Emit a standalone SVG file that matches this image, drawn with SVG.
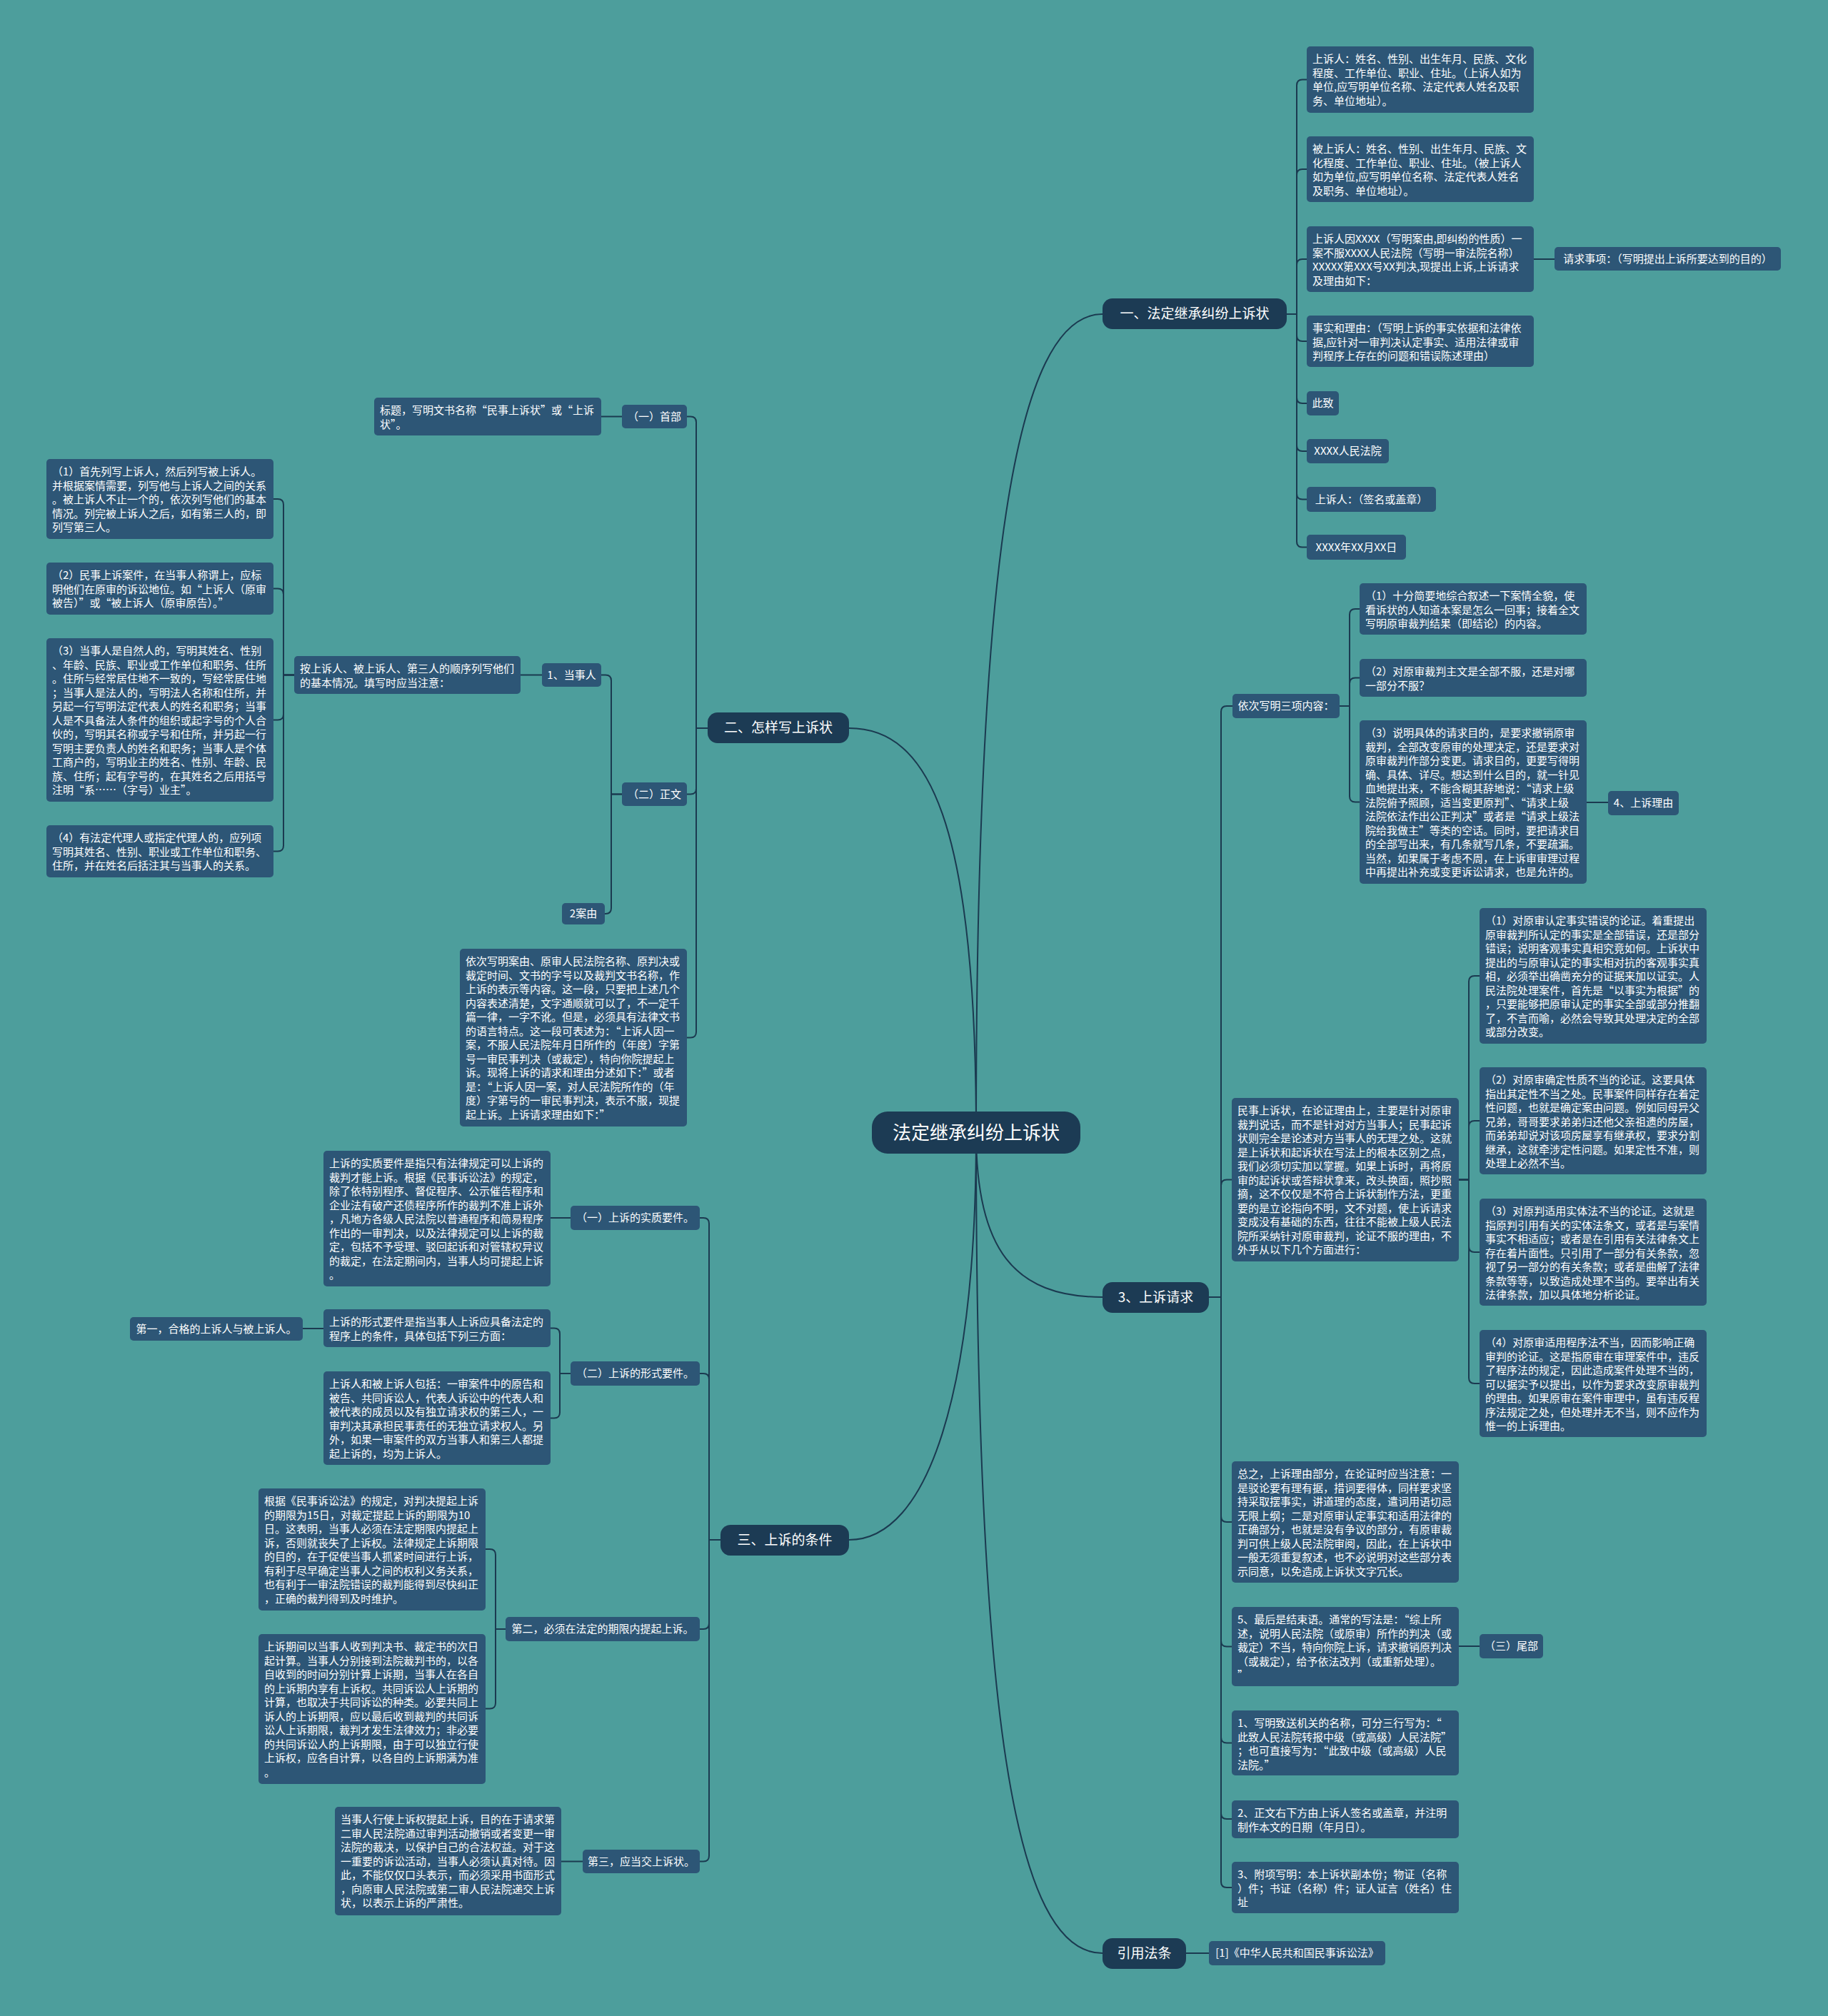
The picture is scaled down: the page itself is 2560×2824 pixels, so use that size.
<svg xmlns="http://www.w3.org/2000/svg" width="2560" height="2824" viewBox="0 0 2560 2824">
<style>
.bg{fill:#4d9e9c}
.n{fill:#2d5676}
.m{fill:#1c3b54}
text{fill:#ffffff;font-family:"Noto Sans CJK SC","Noto Sans",sans-serif;font-size:15px}
.c{text-anchor:middle}
.mt{font-size:19px;text-anchor:middle}
.ct{font-size:26px;text-anchor:middle}
.lk path{fill:none;stroke:#1b3a50;stroke-width:2}
</style>
<rect class="bg" x="0" y="0" width="2560" height="2824"/>

<g class="lk" id="connectors">
<path d="M1367 1587C1367 800 1420 440 1544 440"/>
<path d="M1367 1587C1367 1750 1420 1817 1544 1817"/>
<path d="M1367 1587C1367 2400 1420 2736 1544 2736"/>
<path d="M1367 1587C1367 1150 1300 1020 1189 1020"/>
<path d="M1367 1587C1367 1950 1300 2157 1189 2157"/>
<path d="M1802 440H1816V119.5Q1816 111.5 1824 111.5H1830"/>
<path d="M1802 440H1816V245Q1816 237 1824 237H1830"/>
<path d="M1802 440H1816V371Q1816 363 1824 363H1830"/>
<path d="M1802 440H1816V470Q1816 478 1824 478H1830"/>
<path d="M1802 440H1816V557Q1816 565 1824 565H1830"/>
<path d="M1802 440H1816V624Q1816 632 1824 632H1830"/>
<path d="M1802 440H1816V691.5Q1816 699.5 1824 699.5H1830"/>
<path d="M1802 440H1816V758.5Q1816 766.5 1824 766.5H1830"/>
<path d="M2148 363H2177"/>
<path d="M1876 989H1890V861Q1890 853 1898 853H1904"/>
<path d="M1876 989H1890V957.5Q1890 949.5 1898 949.5H1904"/>
<path d="M1876 989H1890V1115.5Q1890 1123.5 1898 1123.5H1904"/>
<path d="M2222 1124H2252"/>
<path d="M1693 1817H1710V997Q1710 989 1718 989H1726"/>
<path d="M1693 1817H1710V1660.5Q1710 1652.5 1718 1652.5H1725"/>
<path d="M1693 1817H1710V2124Q1710 2132 1718 2132H1725"/>
<path d="M1693 1817H1710V2298.5Q1710 2306.5 1718 2306.5H1725"/>
<path d="M1693 1817H1710V2433.5Q1710 2441.5 1718 2441.5H1725"/>
<path d="M1693 1817H1710V2540Q1710 2548 1718 2548H1725"/>
<path d="M1693 1817H1710V2636Q1710 2644 1718 2644H1725"/>
<path d="M2043 1652.5H2057V1375Q2057 1367 2065 1367H2072"/>
<path d="M2043 1652.5H2057V1578Q2057 1570 2065 1570H2072"/>
<path d="M2043 1652.5H2057V1746Q2057 1754 2065 1754H2072"/>
<path d="M2043 1652.5H2057V1930Q2057 1938 2065 1938H2072"/>
<path d="M2043 2306H2072"/>
<path d="M1661 2736H1693"/>
<path d="M991 1020H975V591.5Q975 583.5 967 583.5H962"/>
<path d="M991 1020H975V1104.5Q975 1112.5 967 1112.5H962"/>
<path d="M991 1020H975V1445.5Q975 1453.5 967 1453.5H962"/>
<path d="M871 583.5H842"/>
<path d="M871 1112.5H856V953.5Q856 945.5 848 945.5H842"/>
<path d="M871 1112.5H856V1272Q856 1280 848 1280H847"/>
<path d="M759 945.5H729"/>
<path d="M412 945.5H397V707Q397 699 389 699H383"/>
<path d="M412 945.5H397V832.5Q397 824.5 389 824.5H383"/>
<path d="M412 945.5H397V1000.5Q397 1008.5 389 1008.5H383"/>
<path d="M412 945.5H397V1184.5Q397 1192.5 389 1192.5H383"/>
<path d="M1009 2157H993V1714Q993 1706 985 1706H980"/>
<path d="M1009 2157H993V1932Q993 1924 985 1924H980"/>
<path d="M1009 2157H993V2274Q993 2282 985 2282H980"/>
<path d="M1009 2157H993V2599.5Q993 2607.5 985 2607.5H980"/>
<path d="M799 1706H771"/>
<path d="M799 1924H784V1868.5Q784 1860.5 776 1860.5H771"/>
<path d="M799 1924H784V1978.5Q784 1986.5 776 1986.5H771"/>
<path d="M453 1861H424"/>
<path d="M708 2282H694V2178Q694 2170 686 2170H680"/>
<path d="M708 2282H694V2385.5Q694 2393.5 686 2393.5H680"/>
<path d="M816 2607.5H786"/>
</g>

<g id="center"><rect class="m" x="1221" y="1557" width="292" height="59" rx="22"/><text class="ct" x="1367" y="1596">法定继承纠纷上诉状</text></g>

<g id="m1"><rect class="m" x="1544" y="418" width="258" height="43" rx="14"/><text class="mt" x="1673" y="446">一、法定继承纠纷上诉状</text></g>
<g id="m2"><rect class="m" x="1544" y="1796" width="149" height="43" rx="14"/><text class="mt" x="1618.5" y="1824">3、上诉请求</text></g>
<g id="m3"><rect class="m" x="1544" y="2715" width="117" height="43" rx="14"/><text class="mt" x="1602.5" y="2743">引用法条</text></g>
<g id="m4"><rect class="m" x="991" y="998" width="198" height="43" rx="14"/><text class="mt" x="1090" y="1026">二、怎样写上诉状</text></g>
<g id="m5"><rect class="m" x="1009" y="2136" width="180" height="43" rx="14"/><text class="mt" x="1099" y="2164">三、上诉的条件</text></g>

<g id="r1"><rect class="n" x="1830" y="65" width="318" height="93" rx="5"/><text x="1838" y="88">上诉人：姓名、性别、出生年月、民族、文化<tspan x="1838" dy="19.5">程度、工作单位、职业、住址。（上诉人如为</tspan><tspan x="1838" dy="19.5">单位,应写明单位名称、法定代表人姓名及职</tspan><tspan x="1838" dy="19.5">务、单位地址）。</tspan></text></g>
<g id="r2"><rect class="n" x="1830" y="191" width="318" height="92" rx="5"/><text x="1838" y="214">被上诉人：姓名、性别、出生年月、民族、文<tspan x="1838" dy="19.5">化程度、工作单位、职业、住址。（被上诉人</tspan><tspan x="1838" dy="19.5">如为单位,应写明单位名称、法定代表人姓名</tspan><tspan x="1838" dy="19.5">及职务、单位地址）。</tspan></text></g>
<g id="r3"><rect class="n" x="1830" y="317" width="318" height="92" rx="5"/><text x="1838" y="340">上诉人因XXXX（写明案由,即纠纷的性质）一<tspan x="1838" dy="19.5">案不服XXXX人民法院（写明一审法院名称）</tspan><tspan x="1838" dy="19.5">XXXXX第XXX号XX判决,现提出上诉,上诉请求</tspan><tspan x="1838" dy="19.5">及理由如下：</tspan></text></g>
<g id="r3a"><rect class="n" x="2177" y="346" width="317" height="33" rx="5"/><text class="c" x="2335.5" y="368">请求事项：（写明提出上诉所要达到的目的）</text></g>
<g id="r4"><rect class="n" x="1830" y="442" width="318" height="72" rx="5"/><text x="1838" y="465">事实和理由：（写明上诉的事实依据和法律依<tspan x="1838" dy="19.5">据,应针对一审判决认定事实、适用法律或审</tspan><tspan x="1838" dy="19.5">判程序上存在的问题和错误陈述理由）</tspan></text></g>
<g id="r5"><rect class="n" x="1830" y="548" width="45" height="34" rx="5"/><text class="c" x="1852.5" y="570">此致</text></g>
<g id="r6"><rect class="n" x="1830" y="615" width="115" height="34" rx="5"/><text class="c" x="1887.5" y="637">XXXX人民法院</text></g>
<g id="r7"><rect class="n" x="1830" y="682" width="181" height="35" rx="5"/><text class="c" x="1920.5" y="704.5">上诉人：（签名或盖章）</text></g>
<g id="r8"><rect class="n" x="1830" y="749" width="139" height="35" rx="5"/><text class="c" x="1899.5" y="771.5">XXXX年XX月XX日</text></g>

<g id="q1"><rect class="n" x="1726" y="972" width="150" height="34" rx="5"/><text class="c" x="1801" y="994">依次写明三项内容：</text></g>
<g id="q1a"><rect class="n" x="1904" y="817" width="318" height="72" rx="5"/><text x="1912" y="840">（1）十分简要地综合叙述一下案情全貌，使<tspan x="1912" dy="19.5">看诉状的人知道本案是怎么一回事；接着全文</tspan><tspan x="1912" dy="19.5">写明原审裁判结果（即结论）的内容。</tspan></text></g>
<g id="q1b"><rect class="n" x="1904" y="923" width="318" height="53" rx="5"/><text x="1912" y="946">（2）对原审裁判主文是全部不服，还是对哪<tspan x="1912" dy="19.5">一部分不服？</tspan></text></g>
<g id="q1c"><rect class="n" x="1904" y="1009" width="318" height="229" rx="5"/><text x="1912" y="1032">（3）说明具体的请求目的，是要求撤销原审<tspan x="1912" dy="19.5">裁判，全部改变原审的处理决定，还是要求对</tspan><tspan x="1912" dy="19.5">原审裁判作部分变更。请求目的，更要写得明</tspan><tspan x="1912" dy="19.5">确、具体、详尽。想达到什么目的，就一针见</tspan><tspan x="1912" dy="19.5">血地提出来，不能含糊其辞地说：“请求上级</tspan><tspan x="1912" dy="19.5">法院俯予照顾，适当变更原判”、“请求上级</tspan><tspan x="1912" dy="19.5">法院依法作出公正判决”或者是“请求上级法</tspan><tspan x="1912" dy="19.5">院给我做主”等类的空话。同时，要把请求目</tspan><tspan x="1912" dy="19.5">的全部写出来，有几条就写几条，不要疏漏。</tspan><tspan x="1912" dy="19.5">当然，如果属于考虑不周，在上诉审审理过程</tspan><tspan x="1912" dy="19.5">中再提出补充或变更诉讼请求，也是允许的。</tspan></text></g>
<g id="q1d"><rect class="n" x="2252" y="1108" width="99" height="34" rx="5"/><text class="c" x="2301.5" y="1130">4、上诉理由</text></g>

<g id="q2"><rect class="n" x="1725" y="1538" width="318" height="229" rx="5"/><text x="1733" y="1561">民事上诉状，在论证理由上，主要是针对原审<tspan x="1733" dy="19.5">裁判说话，而不是针对对方当事人；民事起诉</tspan><tspan x="1733" dy="19.5">状则完全是论述对方当事人的无理之处。这就</tspan><tspan x="1733" dy="19.5">是上诉状和起诉状在写法上的根本区别之点，</tspan><tspan x="1733" dy="19.5">我们必须切实加以掌握。如果上诉时，再将原</tspan><tspan x="1733" dy="19.5">审的起诉状或答辩状拿来，改头换面，照抄照</tspan><tspan x="1733" dy="19.5">摘，这不仅仅是不符合上诉状制作方法，更重</tspan><tspan x="1733" dy="19.5">要的是立论指向不明，文不对题，使上诉请求</tspan><tspan x="1733" dy="19.5">变成没有基础的东西，往往不能被上级人民法</tspan><tspan x="1733" dy="19.5">院所采纳针对原审裁判，论证不服的理由，不</tspan><tspan x="1733" dy="19.5">外乎从以下几个方面进行：</tspan></text></g>
<g id="q2a"><rect class="n" x="2072" y="1272" width="318" height="190" rx="5"/><text x="2080" y="1295">（1）对原审认定事实错误的论证。着重提出<tspan x="2080" dy="19.5">原审裁判所认定的事实是全部错误，还是部分</tspan><tspan x="2080" dy="19.5">错误；说明客观事实真相究竟如何。上诉状中</tspan><tspan x="2080" dy="19.5">提出的与原审认定的事实相对抗的客观事实真</tspan><tspan x="2080" dy="19.5">相，必须举出确凿充分的证据来加以证实。人</tspan><tspan x="2080" dy="19.5">民法院处理案件，首先是“以事实为根据”的</tspan><tspan x="2080" dy="19.5">，只要能够把原审认定的事实全部或部分推翻</tspan><tspan x="2080" dy="19.5">了，不言而喻，必然会导致其处理决定的全部</tspan><tspan x="2080" dy="19.5">或部分改变。</tspan></text></g>
<g id="q2b"><rect class="n" x="2072" y="1495" width="318" height="150" rx="5"/><text x="2080" y="1518">（2）对原审确定性质不当的论证。这要具体<tspan x="2080" dy="19.5">指出其定性不当之处。民事案件同样存在着定</tspan><tspan x="2080" dy="19.5">性问题，也就是确定案由问题。例如同母异父</tspan><tspan x="2080" dy="19.5">兄弟，哥哥要求弟弟归还他父亲祖遗的房屋，</tspan><tspan x="2080" dy="19.5">而弟弟却说对该项房屋享有继承权，要求分割</tspan><tspan x="2080" dy="19.5">继承，这就牵涉定性问题。如果定性不准，则</tspan><tspan x="2080" dy="19.5">处理上必然不当。</tspan></text></g>
<g id="q2c"><rect class="n" x="2072" y="1679" width="318" height="150" rx="5"/><text x="2080" y="1702">（3）对原判适用实体法不当的论证。这就是<tspan x="2080" dy="19.5">指原判引用有关的实体法条文，或者是与案情</tspan><tspan x="2080" dy="19.5">事实不相适应；或者是在引用有关法律条文上</tspan><tspan x="2080" dy="19.5">存在着片面性。只引用了一部分有关条款，忽</tspan><tspan x="2080" dy="19.5">视了另一部分的有关条款；或者是曲解了法律</tspan><tspan x="2080" dy="19.5">条款等等，以致造成处理不当的。要举出有关</tspan><tspan x="2080" dy="19.5">法律条款，加以具体地分析论证。</tspan></text></g>
<g id="q2d"><rect class="n" x="2072" y="1863" width="318" height="150" rx="5"/><text x="2080" y="1886">（4）对原审适用程序法不当，因而影响正确<tspan x="2080" dy="19.5">审判的论证。这是指原审在审理案件中，违反</tspan><tspan x="2080" dy="19.5">了程序法的规定，因此造成案件处理不当的，</tspan><tspan x="2080" dy="19.5">可以据实予以提出，以作为要求改变原审裁判</tspan><tspan x="2080" dy="19.5">的理由。如果原审在案件审理中，虽有违反程</tspan><tspan x="2080" dy="19.5">序法规定之处，但处理并无不当，则不应作为</tspan><tspan x="2080" dy="19.5">惟一的上诉理由。</tspan></text></g>
<g id="q3"><rect class="n" x="1725" y="2047" width="318" height="170" rx="5"/><text x="1733" y="2070">总之，上诉理由部分，在论证时应当注意：一<tspan x="1733" dy="19.5">是驳论要有理有据，措词要得体，同样要求坚</tspan><tspan x="1733" dy="19.5">持采取摆事实，讲道理的态度，遣词用语切忌</tspan><tspan x="1733" dy="19.5">无限上纲；二是对原审认定事实和适用法律的</tspan><tspan x="1733" dy="19.5">正确部分，也就是没有争议的部分，有原审裁</tspan><tspan x="1733" dy="19.5">判可供上级人民法院审阅，因此，在上诉状中</tspan><tspan x="1733" dy="19.5">一般无须重复叙述，也不必说明对这些部分表</tspan><tspan x="1733" dy="19.5">示同意，以免造成上诉状文字冗长。</tspan></text></g>
<g id="q4"><rect class="n" x="1725" y="2251" width="318" height="111" rx="5"/><text x="1733" y="2274">5、最后是结束语。通常的写法是：“综上所<tspan x="1733" dy="19.5">述，说明人民法院（或原审）所作的判决（或</tspan><tspan x="1733" dy="19.5">裁定）不当，特向你院上诉，请求撤销原判决</tspan><tspan x="1733" dy="19.5">（或裁定），给予依法改判（或重新处理）。</tspan><tspan x="1733" dy="19.5">”</tspan></text></g>
<g id="q4a"><rect class="n" x="2072" y="2289" width="89" height="34" rx="5"/><text class="c" x="2116.5" y="2311">（三）尾部</text></g>
<g id="q5"><rect class="n" x="1725" y="2396" width="318" height="91" rx="5"/><text x="1733" y="2419">1、写明致送机关的名称，可分三行写为：“<tspan x="1733" dy="19.5">此致人民法院转报中级（或高级）人民法院”</tspan><tspan x="1733" dy="19.5">；也可直接写为：“此致中级（或高级）人民</tspan><tspan x="1733" dy="19.5">法院。”</tspan></text></g>
<g id="q6"><rect class="n" x="1725" y="2522" width="318" height="53" rx="5"/><text x="1733" y="2545">2、正文右下方由上诉人签名或盖章，并注明<tspan x="1733" dy="19.5">制作本文的日期（年月日）。</tspan></text></g>
<g id="q7"><rect class="n" x="1725" y="2608" width="318" height="72" rx="5"/><text x="1733" y="2631">3、附项写明：本上诉状副本份；物证（名称<tspan x="1733" dy="19.5">）件；书证（名称）件；证人证言（姓名）住</tspan><tspan x="1733" dy="19.5">址</tspan></text></g>
<g id="f1"><rect class="n" x="1693" y="2719" width="247" height="34" rx="5"/><text class="c" x="1816.5" y="2741">[1]《中华人民共和国民事诉讼法》</text></g>

<g id="l1"><rect class="n" x="871" y="567" width="91" height="33" rx="5"/><text class="c" x="916.5" y="588.5">（一）首部</text></g>
<g id="l1a"><rect class="n" x="524" y="557" width="318" height="53" rx="5"/><text x="532" y="580">标题，写明文书名称“民事上诉状”或“上诉<tspan x="532" dy="19.5">状”。</tspan></text></g>
<g id="l2"><rect class="n" x="871" y="1096" width="91" height="33" rx="5"/><text class="c" x="916.5" y="1118">（二）正文</text></g>
<g id="l2a"><rect class="n" x="759" y="929" width="83" height="33" rx="5"/><text class="c" x="800.5" y="951">1、当事人</text></g>
<g id="l2b"><rect class="n" x="412" y="919" width="317" height="53" rx="5"/><text x="420" y="942">按上诉人、被上诉人、第三人的顺序列写他们<tspan x="420" dy="19.5">的基本情况。填写时应当注意：</tspan></text></g>
<g id="l2c"><rect class="n" x="65" y="643" width="318" height="112" rx="5"/><text x="73" y="666">（1）首先列写上诉人，然后列写被上诉人。<tspan x="73" dy="19.5">并根据案情需要，列写他与上诉人之间的关系</tspan><tspan x="73" dy="19.5">。被上诉人不止一个的，依次列写他们的基本</tspan><tspan x="73" dy="19.5">情况。列完被上诉人之后，如有第三人的，即</tspan><tspan x="73" dy="19.5">列写第三人。</tspan></text></g>
<g id="l2d"><rect class="n" x="65" y="788" width="318" height="73" rx="5"/><text x="73" y="811">（2）民事上诉案件，在当事人称谓上，应标<tspan x="73" dy="19.5">明他们在原审的诉讼地位。如“上诉人（原审</tspan><tspan x="73" dy="19.5">被告）”或“被上诉人（原审原告）。”</tspan></text></g>
<g id="l2e"><rect class="n" x="65" y="894" width="318" height="229" rx="5"/><text x="73" y="917">（3）当事人是自然人的，写明其姓名、性别<tspan x="73" dy="19.5">、年龄、民族、职业或工作单位和职务、住所</tspan><tspan x="73" dy="19.5">。住所与经常居住地不一致的，写经常居住地</tspan><tspan x="73" dy="19.5">；当事人是法人的，写明法人名称和住所，并</tspan><tspan x="73" dy="19.5">另起一行写明法定代表人的姓名和职务；当事</tspan><tspan x="73" dy="19.5">人是不具备法人条件的组织或起字号的个人合</tspan><tspan x="73" dy="19.5">伙的，写明其名称或字号和住所，并另起一行</tspan><tspan x="73" dy="19.5">写明主要负责人的姓名和职务；当事人是个体</tspan><tspan x="73" dy="19.5">工商户的，写明业主的姓名、性别、年龄、民</tspan><tspan x="73" dy="19.5">族、住所；起有字号的，在其姓名之后用括号</tspan><tspan x="73" dy="19.5">注明“系……（字号）业主”。</tspan></text></g>
<g id="l2f"><rect class="n" x="65" y="1156" width="318" height="73" rx="5"/><text x="73" y="1179">（4）有法定代理人或指定代理人的，应列项<tspan x="73" dy="19.5">写明其姓名、性别、职业或工作单位和职务、</tspan><tspan x="73" dy="19.5">住所，并在姓名后括注其与当事人的关系。</tspan></text></g>
<g id="l2g"><rect class="n" x="787" y="1265" width="60" height="30" rx="5"/><text class="c" x="817" y="1285">2案由</text></g>
<g id="l3"><rect class="n" x="644" y="1329" width="318" height="249" rx="5"/><text x="652" y="1352">依次写明案由、原审人民法院名称、原判决或<tspan x="652" dy="19.5">裁定时间、文书的字号以及裁判文书名称，作</tspan><tspan x="652" dy="19.5">上诉的表示等内容。这一段，只要把上述几个</tspan><tspan x="652" dy="19.5">内容表述清楚，文字通顺就可以了，不一定千</tspan><tspan x="652" dy="19.5">篇一律，一字不讹。但是，必须具有法律文书</tspan><tspan x="652" dy="19.5">的语言特点。这一段可表述为：“上诉人因一</tspan><tspan x="652" dy="19.5">案，不服人民法院年月日所作的（年度）字第</tspan><tspan x="652" dy="19.5">号一审民事判决（或裁定），特向你院提起上</tspan><tspan x="652" dy="19.5">诉。现将上诉的请求和理由分述如下：”或者</tspan><tspan x="652" dy="19.5">是：“上诉人因一案，对人民法院所作的（年</tspan><tspan x="652" dy="19.5">度）字第号的一审民事判决，表示不服，现提</tspan><tspan x="652" dy="19.5">起上诉。上诉请求理由如下：”</tspan></text></g>

<g id="k1"><rect class="n" x="799" y="1689" width="181" height="34" rx="5"/><text class="c" x="889.5" y="1711">（一）上诉的实质要件。</text></g>
<g id="k1a"><rect class="n" x="453" y="1612" width="318" height="190" rx="5"/><text x="461" y="1635">上诉的实质要件是指只有法律规定可以上诉的<tspan x="461" dy="19.5">裁判才能上诉。根据《民事诉讼法》的规定，</tspan><tspan x="461" dy="19.5">除了依特别程序、督促程序、公示催告程序和</tspan><tspan x="461" dy="19.5">企业法有破产还债程序所作的裁判不准上诉外</tspan><tspan x="461" dy="19.5">，凡地方各级人民法院以普通程序和简易程序</tspan><tspan x="461" dy="19.5">作出的一审判决，以及法律规定可以上诉的裁</tspan><tspan x="461" dy="19.5">定，包括不予受理、驳回起诉和对管辖权异议</tspan><tspan x="461" dy="19.5">的裁定，在法定期间内，当事人均可提起上诉</tspan><tspan x="461" dy="19.5">。</tspan></text></g>
<g id="k2"><rect class="n" x="799" y="1907" width="181" height="34" rx="5"/><text class="c" x="889.5" y="1929">（二）上诉的形式要件。</text></g>
<g id="k2a"><rect class="n" x="453" y="1834" width="318" height="53" rx="5"/><text x="461" y="1857">上诉的形式要件是指当事人上诉应具备法定的<tspan x="461" dy="19.5">程序上的条件，具体包括下列三方面：</tspan></text></g>
<g id="k2b"><rect class="n" x="182" y="1845" width="242" height="33" rx="5"/><text class="c" x="303" y="1866.5">第一，合格的上诉人与被上诉人。</text></g>
<g id="k2c"><rect class="n" x="453" y="1921" width="318" height="131" rx="5"/><text x="461" y="1944">上诉人和被上诉人包括：一审案件中的原告和<tspan x="461" dy="19.5">被告、共同诉讼人，代表人诉讼中的代表人和</tspan><tspan x="461" dy="19.5">被代表的成员以及有独立请求权的第三人，一</tspan><tspan x="461" dy="19.5">审判决其承担民事责任的无独立请求权人。另</tspan><tspan x="461" dy="19.5">外，如果一审案件的双方当事人和第三人都提</tspan><tspan x="461" dy="19.5">起上诉的，均为上诉人。</tspan></text></g>
<g id="k3"><rect class="n" x="708" y="2265" width="272" height="34" rx="5"/><text class="c" x="844" y="2287">第二，必须在法定的期限内提起上诉。</text></g>
<g id="k3a"><rect class="n" x="362" y="2085" width="318" height="171" rx="5"/><text x="370" y="2108">根据《民事诉讼法》的规定，对判决提起上诉<tspan x="370" dy="19.5">的期限为15日，对裁定提起上诉的期限为10</tspan><tspan x="370" dy="19.5">日。这表明，当事人必须在法定期限内提起上</tspan><tspan x="370" dy="19.5">诉，否则就丧失了上诉权。法律规定上诉期限</tspan><tspan x="370" dy="19.5">的目的，在于促使当事人抓紧时间进行上诉，</tspan><tspan x="370" dy="19.5">有利于尽早确定当事人之间的权利义务关系，</tspan><tspan x="370" dy="19.5">也有利于一审法院错误的裁判能得到尽快纠正</tspan><tspan x="370" dy="19.5">，正确的裁判得到及时维护。</tspan></text></g>
<g id="k3b"><rect class="n" x="362" y="2289" width="318" height="210" rx="5"/><text x="370" y="2312">上诉期间以当事人收到判决书、裁定书的次日<tspan x="370" dy="19.5">起计算。当事人分别接到法院裁判书的，以各</tspan><tspan x="370" dy="19.5">自收到的时间分别计算上诉期，当事人在各自</tspan><tspan x="370" dy="19.5">的上诉期内享有上诉权。共同诉讼人上诉期的</tspan><tspan x="370" dy="19.5">计算，也取决于共同诉讼的种类。必要共同上</tspan><tspan x="370" dy="19.5">诉人的上诉期限，应以最后收到裁判的共同诉</tspan><tspan x="370" dy="19.5">讼人上诉期限，裁判才发生法律效力；非必要</tspan><tspan x="370" dy="19.5">的共同诉讼人的上诉期限，由于可以独立行使</tspan><tspan x="370" dy="19.5">上诉权，应各自计算，以各自的上诉期满为准</tspan><tspan x="370" dy="19.5">。</tspan></text></g>
<g id="k4"><rect class="n" x="816" y="2591" width="164" height="33" rx="5"/><text class="c" x="898" y="2612.5">第三，应当交上诉状。</text></g>
<g id="k4a"><rect class="n" x="469" y="2531" width="317" height="152" rx="5"/><text x="477" y="2554">当事人行使上诉权提起上诉，目的在于请求第<tspan x="477" dy="19.5">二审人民法院通过审判活动撤销或者变更一审</tspan><tspan x="477" dy="19.5">法院的裁决，以保护自己的合法权益。对于这</tspan><tspan x="477" dy="19.5">一重要的诉讼活动，当事人必须认真对待。因</tspan><tspan x="477" dy="19.5">此，不能仅仅口头表示，而必须采用书面形式</tspan><tspan x="477" dy="19.5">，向原审人民法院或第二审人民法院递交上诉</tspan><tspan x="477" dy="19.5">状，以表示上诉的严肃性。</tspan></text></g>
</svg>
